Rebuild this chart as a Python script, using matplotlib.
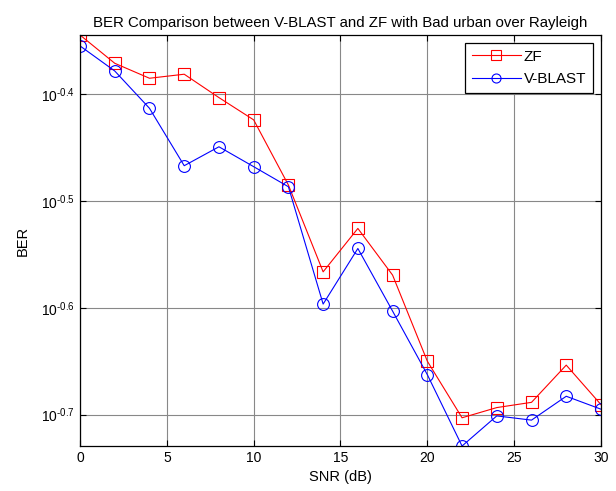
import numpy as np
import matplotlib.pyplot as plt
from matplotlib.ticker import FixedLocator, FuncFormatter, NullLocator

plt.rcParams['font.family'] = ['Liberation Sans', 'DejaVu Sans']
plt.rcParams['mathtext.fontset'] = 'custom'
plt.rcParams['mathtext.rm'] = 'Liberation Sans'
plt.rcParams['mathtext.it'] = 'Liberation Sans'
plt.rcParams['mathtext.bf'] = 'Liberation Sans'
plt.rcParams['axes.unicode_minus'] = False

# SNR (dB)
snr = [0, 2, 4, 6, 8, 10, 12, 14, 16, 18, 20, 22, 24, 26, 28, 30]

# BER values
ber_zf = [0.4520, 0.4253, 0.4118, 0.4154, 0.3950, 0.3765, 0.3272, 0.2714,
          0.2980, 0.2695, 0.2239, 0.1982, 0.2026, 0.2049, 0.2220, 0.2039]
ber_vblast = [0.4415, 0.4183, 0.3860, 0.3411, 0.3553, 0.3404, 0.3260, 0.2532,
              0.2854, 0.2494, 0.2175, 0.1865, 0.1990, 0.1972, 0.2076, 0.2019]

ytick_exp = [-0.7, -0.6, -0.5, -0.4]
xticks = [0, 5, 10, 15, 20, 25, 30]

fig = plt.figure(figsize=(6.16, 4.91), dpi=100)
ax = fig.add_axes([0.1299, 0.0916, 0.8457, 0.8371])

ax.plot(snr, ber_zf, color='red', marker='s', markersize=8.5,
        markerfacecolor='none', markeredgewidth=0.8, linewidth=0.8, label='ZF')
ax.plot(snr, ber_vblast, color='blue', marker='o', markersize=8.5,
        markerfacecolor='none', markeredgewidth=0.8, linewidth=0.8, label='V-BLAST')

ax.set_yscale('log')
ax.set_xlim(0, 30)
ax.set_ylim(min(ber_vblast + ber_zf), max(ber_vblast + ber_zf))
ax.set_xticks(xticks)
ax.yaxis.set_major_locator(FixedLocator([10 ** e for e in ytick_exp]))
ax.yaxis.set_minor_locator(NullLocator())
ax.yaxis.set_major_formatter(FuncFormatter(
    lambda v, p: r'$\mathregular{10^{\text{-%.1f}}}$' % abs(np.log10(v))))

ax.tick_params(direction='in', top=True, right=True, labelsize=10, length=4, width=0.8)
ax.grid(True, color='#888888', linestyle='-', linewidth=0.8)
for s in ax.spines.values():
    s.set_linewidth(0.9)

ax.set_title('BER Comparison between V-BLAST and ZF with Bad urban over Rayleigh', fontsize=10.8)
ax.set_xlabel('SNR (dB)', fontsize=10.5)
ax.set_ylabel('BER', fontsize=10.5, labelpad=8)

leg = ax.legend(loc='upper right', fontsize=11, fancybox=False, framealpha=1,
                edgecolor='black', handlelength=3.2, handletextpad=0.2,
                borderaxespad=0.5, labelspacing=0.55, borderpad=0.45)
leg.get_frame().set_linewidth(0.9)
for h in leg.legend_handles:
    h.set_markersize(6.5)

fig.savefig('out.png', dpi=100)
